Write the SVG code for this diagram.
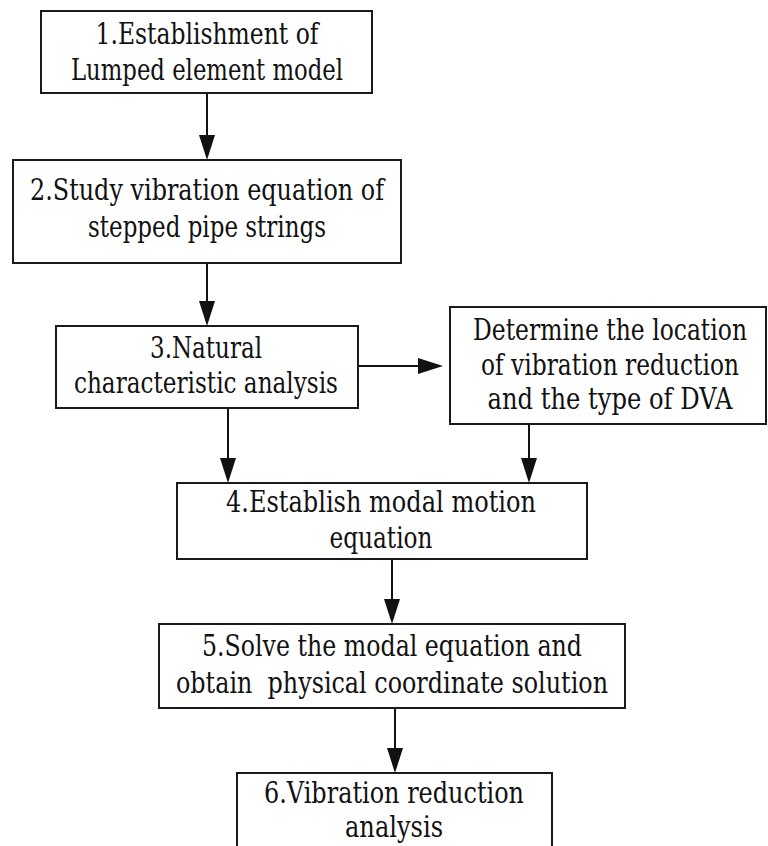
<svg xmlns="http://www.w3.org/2000/svg" width="768" height="846" viewBox="0 0 768 846">
<style>
.box{fill:#fff;stroke:#1a1a1a;stroke-width:2}
.t{font-family:"DejaVu Serif","Liberation Serif",serif;font-size:30px;fill:#111;text-anchor:middle}
.c{stroke:#111;stroke-width:2;fill:none}
</style>
<defs>
<marker id="ah" viewBox="0 -8 25 16" markerWidth="25" markerHeight="16" refX="0" refY="0" markerUnits="userSpaceOnUse" orient="auto">
<path d="M0,-8 L25,0 L0,8 Z" fill="#111"/>
</marker>
</defs>
<rect width="768" height="846" fill="#fff"/>
<g id="connectors">
<line class="c" x1="207" y1="93" x2="207" y2="135" marker-end="url(#ah)"/>
<line class="c" x1="207" y1="263" x2="207" y2="301" marker-end="url(#ah)"/>
<line class="c" x1="358" y1="366" x2="418" y2="366" marker-end="url(#ah)"/>
<line class="c" x1="228" y1="408" x2="228" y2="458" marker-end="url(#ah)"/>
<line class="c" x1="529" y1="424" x2="529" y2="458" marker-end="url(#ah)"/>
<line class="c" x1="392" y1="559" x2="392" y2="599" marker-end="url(#ah)"/>
<line class="c" x1="395" y1="708" x2="395" y2="748" marker-end="url(#ah)"/>
</g>
<g id="node1">
<rect class="box" x="41" y="11" width="331" height="82"/>
<text class="t" x="207" y="44" textLength="223" lengthAdjust="spacingAndGlyphs">1.Establishment of</text>
<text class="t" x="207" y="80" textLength="272" lengthAdjust="spacingAndGlyphs">Lumped element model</text>
</g>
<g id="node2">
<rect class="box" x="13" y="160" width="388" height="103"/>
<text class="t" x="207" y="200" textLength="354" lengthAdjust="spacingAndGlyphs">2.Study vibration equation of</text>
<text class="t" x="207" y="237" textLength="238" lengthAdjust="spacingAndGlyphs">stepped pipe strings</text>
</g>
<g id="node3">
<rect class="box" x="56" y="326" width="302" height="82"/>
<text class="t" x="206" y="358" textLength="112" lengthAdjust="spacingAndGlyphs">3.Natural</text>
<text class="t" x="206" y="393" textLength="264" lengthAdjust="spacingAndGlyphs">characteristic analysis</text>
</g>
<g id="nodeDVA">
<rect class="box" x="450" y="307" width="316" height="117"/>
<text class="t" x="610" y="340" textLength="274" lengthAdjust="spacingAndGlyphs">Determine the location</text>
<text class="t" x="610" y="375" textLength="258" lengthAdjust="spacingAndGlyphs">of vibration reduction</text>
<text class="t" x="610" y="409" textLength="245" lengthAdjust="spacingAndGlyphs">and the type of DVA</text>
</g>
<g id="node4">
<rect class="box" x="177" y="483" width="410" height="76"/>
<text class="t" x="381" y="512" textLength="310" lengthAdjust="spacingAndGlyphs">4.Establish modal motion</text>
<text class="t" x="381" y="548" textLength="103" lengthAdjust="spacingAndGlyphs">equation</text>
</g>
<g id="node5">
<rect class="box" x="159" y="624" width="466" height="84"/>
<text class="t" x="392" y="656" textLength="380" lengthAdjust="spacingAndGlyphs">5.Solve the modal equation and</text>
<text class="t" x="392" y="693" textLength="432" lengthAdjust="spacingAndGlyphs" xml:space="preserve">obtain  physical coordinate solution</text>
</g>
<g id="node6">
<rect class="box" x="237" y="773" width="315" height="90"/>
<text class="t" x="394" y="803" textLength="260" lengthAdjust="spacingAndGlyphs">6.Vibration reduction</text>
<text class="t" x="394" y="837" textLength="98" lengthAdjust="spacingAndGlyphs">analysis</text>
</g>
</svg>
